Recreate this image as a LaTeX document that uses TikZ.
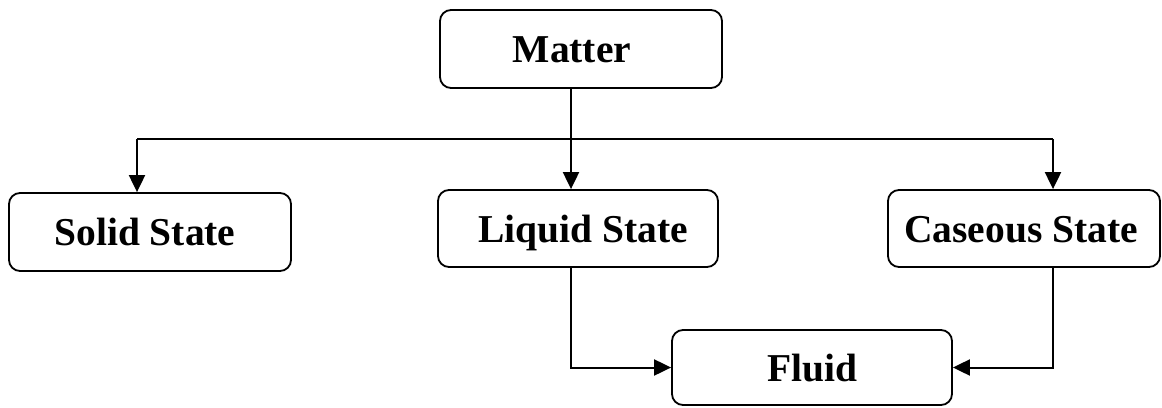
\documentclass[tikz,border=0pt]{standalone}
\usepackage{fontspec}
\setmainfont{Liberation Serif}
\usetikzlibrary{arrows.meta}
\begin{document}
\begin{tikzpicture}[x=1pt,y=-1pt,
  box/.style={draw, line width=1.8pt, rounded corners=11pt, inner sep=0pt,
    text height=27pt, text depth=0pt,
    font=\fontsize{39.5}{46}\selectfont\bfseries},
  conn/.style={line width=2pt},
  arr/.style={conn, -{Triangle[length=17pt,width=16pt]}}]
\useasboundingbox (0,0) rectangle (1162,407);
\node[box, minimum width=282pt, minimum height=78pt] (matter) at (581,49) {Matter\hspace*{18pt}};
\node[box, minimum width=282pt, minimum height=78pt] (solid) at (150,232) {Solid State\hspace*{10pt}};
\node[box, minimum width=280pt, minimum height=77pt] (liquid) at (578,228.5) {\hspace*{10pt}Liquid State};
\node[box, minimum width=272pt, minimum height=77pt] (caseous) at (1024,228.5) {Caseous State\hspace*{6pt}};
\node[box, minimum width=280pt, minimum height=75pt] (fluid) at (812,367.5) {Fluid};
\coordinate (bl) at (137,139);
\coordinate (br) at (1053,139);
\coordinate (mx) at (571,0);
\draw[conn] (bl) -- (br);
\draw[arr] (matter.south -| mx) -- (liquid.north -| mx);
\draw[arr] (bl) -- (solid.north -| bl);
\draw[arr] (br) -- (caseous.north -| br);
\draw[arr] (liquid.south -| mx) |- (fluid.west);
\draw[arr] (caseous.south -| br) |- (fluid.east);
\end{tikzpicture}
\end{document}
